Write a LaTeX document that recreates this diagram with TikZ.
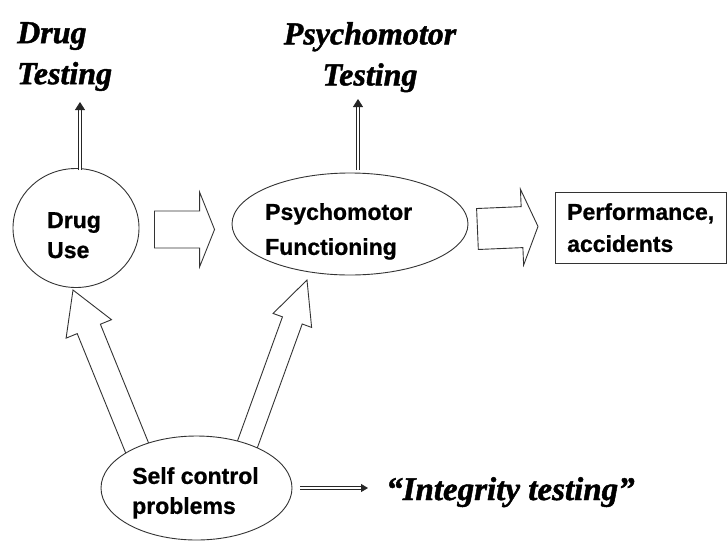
\documentclass[tikz,border=0pt]{standalone}
\usepackage{fontspec}
\setmainfont{Liberation Serif}
\newfontfamily\ttlfont{Liberation Serif}[BoldItalicFeatures={FakeBold=1.4}]
\newfontfamily\lblfont{Liberation Sans}[BoldFeatures={FakeBold=0.8}]
\usetikzlibrary{calc,arrows.meta,shapes.geometric}
\tikzset{
  shp/.style={draw=black!80, line width=0.9pt, fill=white, ellipse, inner sep=0pt},
  lbl/.style={font=\lblfont\bfseries\fontsize{23}{32}\selectfont, inner sep=0pt, align=left, anchor=north west},
  ttl/.style={font=\ttlfont\bfseries\itshape\fontsize{32}{41}\selectfont, inner sep=0pt},
  barrow/.style={draw=black!80, line width=0.9pt, fill=white, line join=miter},
  dbl/.style={draw=black!85, double=white, line width=0.8pt, double distance=2.4pt, -{Triangle[length=8pt,width=10pt]}},
  dblsm/.style={draw=black!85, double=white, line width=0.8pt, double distance=2pt, -{Triangle[length=7pt,width=8pt]}},
}
\newcommand{\blockarr}[5]{%
  \draw[barrow] ($(#1)!#3!90:(#2)$) -- ($(#2)!#5!(#1)!#3!-90:(#1)$) -- ($(#2)!#5!(#1)!#4!-90:(#1)$) -- (#2) -- ($(#2)!#5!(#1)!#4!90:(#1)$) -- ($(#2)!#5!(#1)!#3!90:(#1)$) -- ($(#1)!#3!-90:(#2)$) -- cycle;}
\begin{document}
\begin{tikzpicture}[x=1pt,y=1pt]
\useasboundingbox (0,0) rectangle (727,-541);
% diagonal block arrows (drawn first, under the ellipse)
\coordinate (d1s) at (140,-455);
\coordinate (d1e) at (73,-290);
\coordinate (d2s) at (245,-451);
\coordinate (d2e) at (307,-280);
\blockarr{d1s}{d1e}{12.5pt}{24.5pt}{42pt}
\blockarr{d2s}{d2e}{10.5pt}{20.5pt}{43pt}
% shapes
\node[shp, minimum width=126pt, minimum height=119pt] (du) at (76,-228) {};
\node[shp, minimum width=236pt, minimum height=102pt] (pf) at (350,-224) {};
\node[draw=black!80, line width=0.9pt, rectangle, inner sep=0pt, anchor=north west, minimum width=171pt, minimum height=71pt] (pa) at (555,-192) {};
\node[shp, minimum width=191pt, minimum height=104pt] (sc) at (196.5,-488) {};
% texts
\node[lbl, font=\lblfont\bfseries\fontsize{23}{30}\selectfont] (dut) at (47,-212) {Drug\\Use};
\node[lbl, font=\lblfont\bfseries\fontsize{23}{35}\selectfont] (pft) at (265,-203) {Psychomotor\\Functioning};
\node[lbl, font=\lblfont\bfseries\fontsize{23}{32}\selectfont] (pat) at (567,-203) {Performance,\\accidents};
\node[lbl, font=\lblfont\bfseries\fontsize{23}{30}\selectfont] (sct) at (132,-467) {Self control\\problems};
\node[ttl, anchor=north west, align=left] (dt) at (17,-22) {Drug\\Testing};
\node[ttl, anchor=north, align=center] (pt) at (370,-22) {Psychomotor\\Testing};
\node[ttl, font=\ttlfont\bfseries\itshape\fontsize{33}{41}\selectfont, anchor=base west] (it) at (386,-500) {“Integrity testing”};
% horizontal block arrows
\coordinate (a1s) at ($(du.east)+(15,-1.5)$);
\coordinate (a1e) at ($(pf.west)+(-17,-5.5)$);
\blockarr{a1s}{a1e}{18.5pt}{37.5pt}{15pt}
\coordinate (a2s) at ($(pf.east)+(9,-5)$);
\coordinate (a2e) at ($(pa.west)+(-17,1.5)$);
\blockarr{a2s}{a2e}{20.5pt}{38pt}{16pt}
% double-line arrows
\coordinate (dtt) at (80,-102);
\coordinate (ptt) at (358,-99);
\coordinate (its) at (300,-488);
\coordinate (itt) at (368,-488);
\draw[dbl] (80,-170) -- (dtt);
\draw[dbl] ($(pf.north)+(8,3)$) -- (ptt);
\draw[dblsm] (its) -- (itt);
\end{tikzpicture}
\end{document}
